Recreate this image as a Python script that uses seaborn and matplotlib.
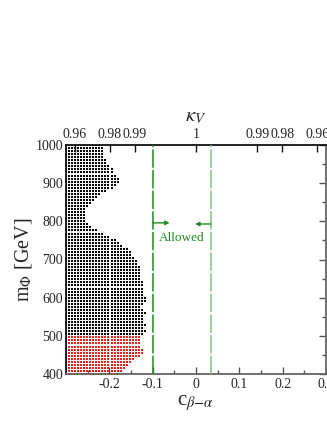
import numpy as np
import pandas as pd
import matplotlib
matplotlib.use("Agg")
import matplotlib.pyplot as plt
from matplotlib.path import Path
import seaborn as sns

# ---------------- data ----------------
c_step = 0.007          # scan step in c_{beta-alpha}
c_start = -0.30

# black points: right-hand edge of the scanned region for each mass row
black_mass = list(range(504, 1001, 8))
black_edge = [-0.121, -0.117, -0.120, -0.118, -0.120, -0.120, -0.121, -0.115, -0.120, -0.126,
              -0.120, -0.117, -0.117, -0.119, -0.120, -0.122, -0.124, -0.124, -0.126, -0.126,
              -0.128, -0.130, -0.131, -0.134, -0.137, -0.142, -0.147, -0.152, -0.160, -0.168,
              -0.177, -0.185, -0.200, -0.213, -0.229, -0.240, -0.250, -0.255, -0.257, -0.257,
              -0.255, -0.252, -0.248, -0.243, -0.237, -0.230, -0.221, -0.206, -0.190, -0.182,
              -0.178, -0.181, -0.186, -0.191, -0.195, -0.199, -0.203, -0.207, -0.210, -0.211,
              -0.211, -0.211, -0.211]

# red points (low mass)
red_mass = list(range(400, 497, 8))
red_edge = [-0.180, -0.174, -0.167, -0.160, -0.151, -0.142, -0.132, -0.122, -0.122, -0.131,
            -0.131, -0.131, -0.131]

# red points partly hidden under the black ones
under_mass = list(range(504, 761, 8))
under_edge = [-0.140, -0.145, -0.148, -0.150, -0.152, -0.155, -0.158, -0.160, -0.162, -0.163,
              -0.164, -0.165, -0.165, -0.166, -0.167, -0.168, -0.169, -0.170, -0.172, -0.174,
              -0.176, -0.178, -0.180, -0.183, -0.187, -0.190, -0.195, -0.200, -0.205, -0.212,
              -0.220, -0.230, -0.240]

allowed_low = -0.10
allowed_high = 0.034

kappa_ticks = [0.96, 0.98, 0.99, 1.0, 0.99, 0.98, 0.96]
kappa_labels = ["0.96", "0.98", "0.99", "1", "0.99", "0.98", "0.96"]
kappa_sign = [-1, -1, -1, 0, 1, 1, 1]

# ---------------- build tables ----------------
def build(masses, edges, dc=0.0, dm=0.0):
    rows = []
    for m, e in zip(masses, edges):
        for c in np.arange(c_start, e + 1e-9, c_step):
            rows.append((c + dc, m + dm))
    return pd.DataFrame(rows, columns=["c", "m"])

df_under = build(under_mass, under_edge, dc=c_step / 2, dm=4)
df_red = build(red_mass, red_edge)
df_black = build(black_mass, black_edge)

# ---------------- figure ----------------
sns.set_style("white")
plt.rcParams["font.family"] = ["Liberation Serif", "DejaVu Serif"]
plt.rcParams["mathtext.fontset"] = "stix"

W, H = 327, 423
fig = plt.figure(figsize=(W / 100, H / 100), dpi=100)
ax = fig.add_axes([66 / W, 49 / H, 260 / W, 229 / H])

sq = Path([(-0.5, -0.5), (0.5, -0.5), (0.5, 0.5), (-0.5, 0.5), (-0.5, -0.5)],
          [Path.MOVETO, Path.LINETO, Path.LINETO, Path.LINETO, Path.CLOSEPOLY])

sns.scatterplot(data=df_under, x="c", y="m", color="#7a1414", marker=sq,
                s=0.5, linewidth=0, legend=False, ax=ax, zorder=2, antialiased=False)
sns.scatterplot(data=df_red, x="c", y="m", color="#e8201c", marker=sq,
                s=3.6, linewidth=0, legend=False, ax=ax, zorder=2, antialiased=True)
sns.scatterplot(data=df_black, x="c", y="m", color="#000000", marker=sq,
                s=3.6, linewidth=0, legend=False, ax=ax, zorder=2, antialiased=True)

ax.set_xlim(-0.3, 0.3)
ax.set_ylim(400, 1000)

# allowed band lines
ax.axvline(allowed_low, color="#1f8a1f", lw=1.1, ls=(0, (12, 1.5)), zorder=3)
ax.axvline(allowed_high, color="#7cc47c", lw=1.1, ls=(0, (12, 1.5)), zorder=3)
ax.annotate("", xy=(-0.061, 796), xytext=(allowed_low, 796),
            arrowprops=dict(arrowstyle="-|>", color="#1f8a1f", lw=1.0,
                            mutation_scale=6, shrinkA=0, shrinkB=0))
ax.annotate("", xy=(-0.002, 793), xytext=(allowed_high, 793),
            arrowprops=dict(arrowstyle="-|>", color="#1f8a1f", lw=1.0,
                            mutation_scale=6, shrinkA=0, shrinkB=0))
ax.text(-0.032, 756, "Allowed", color="#1f8a1f", fontsize=9.5, ha="center", va="center")

# bottom / left axes
ax.set_xticks([-0.2, -0.1, 0, 0.1, 0.2, 0.3])
ax.set_xticklabels(["-0.2", "-0.1", "0", "0.1", "0.2", "0.3"])
ax.set_xticks([-0.25, -0.15, -0.05, 0.05, 0.15, 0.25], minor=True)
ax.set_yticks(range(400, 1001, 100))
ax.set_yticks(range(450, 1000, 100), minor=True)
ax.tick_params(which="both", direction="in", top=False, right=True, labelsize=10,
               color="#555555")
ax.tick_params(which="major", length=5, width=1)
ax.tick_params(which="minor", length=3, width=1)
ax.tick_params(axis="x", pad=3)
ax.tick_params(axis="y", pad=2)
ax.set_xlabel(r"c$_{\beta{-}\alpha}$", fontsize=15, labelpad=0)
ax.set_ylabel(r"m$_{\Phi}$ [GeV]", fontsize=14.5, labelpad=4)
ax.xaxis.set_label_coords(0.5, -0.085)
ax.yaxis.set_label_coords(-0.125, 0.5)

for side in ["top", "left"]:
    ax.spines[side].set_color("#111111")
for side in ["bottom", "right"]:
    ax.spines[side].set_color("#666666")
for sp in ax.spines.values():
    sp.set_linewidth(1.3)

# top kappa_V axis
ax2 = ax.twiny()
ax2.set_xlim(ax.get_xlim())
pos = [s * np.sqrt(1 - k ** 2) for s, k in zip(kappa_sign, kappa_ticks)]
ax2.set_xticks(pos)
ax2.set_xticklabels(kappa_labels)
ax2.tick_params(direction="in", length=5, width=1, labelsize=10, pad=3, color="#111111")
ax2.set_xlabel(r"$\kappa_V$", fontsize=15, labelpad=5)
for sp in ax2.spines.values():
    sp.set_visible(False)

fig.savefig("out.png", dpi=100)
